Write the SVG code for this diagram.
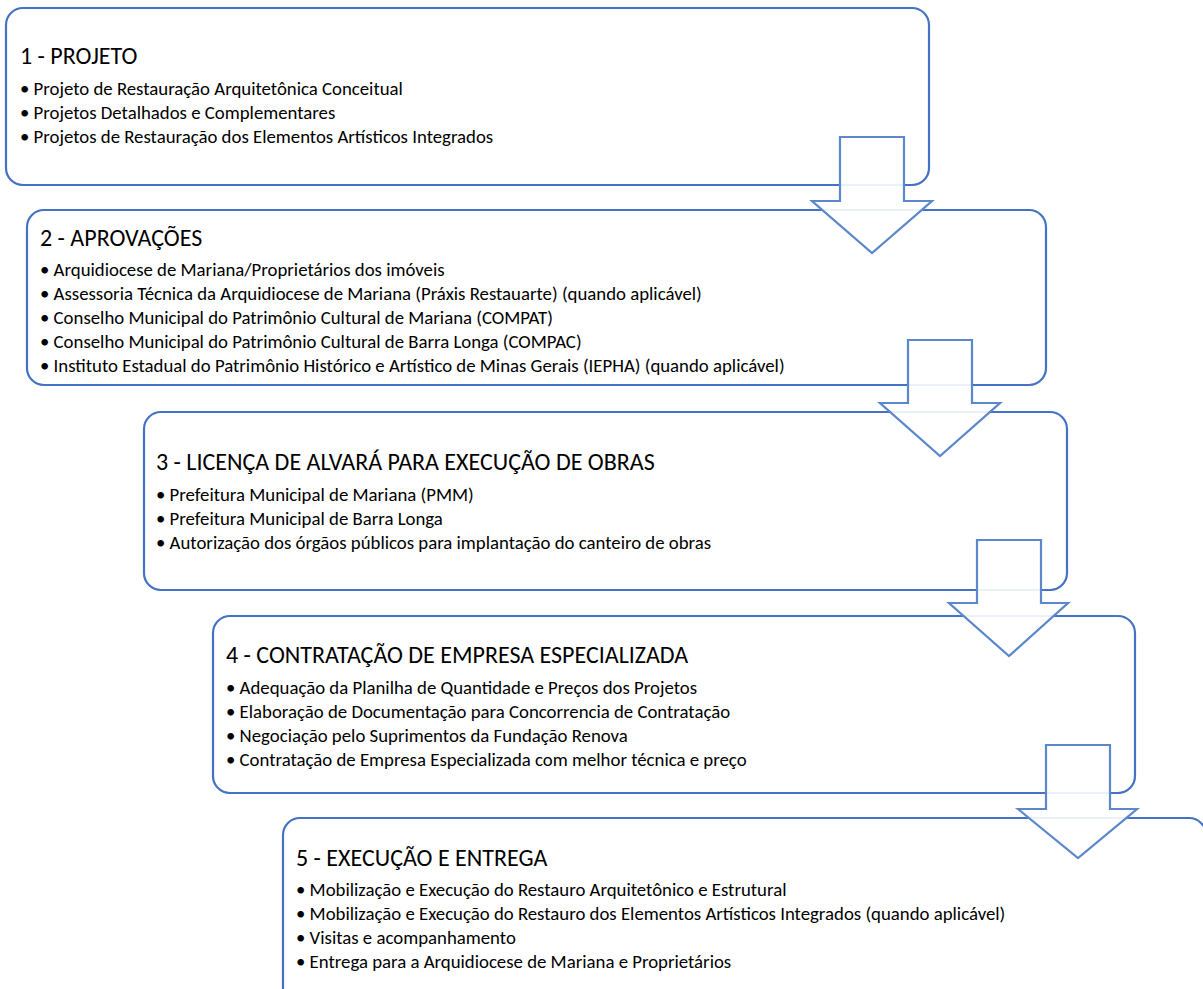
<svg xmlns="http://www.w3.org/2000/svg" width="1203" height="989" viewBox="0 0 1203 989">
<style>
.box{fill:#fff;stroke:#4472C4;stroke-width:2.2}
.t{font-family:Carlito,Lato,"Liberation Sans",sans-serif;font-size:24px;fill:#000}
.b{font-family:Carlito,Lato,"Liberation Sans",sans-serif;font-size:18.8px;fill:#000}
.arrow{fill:#fff;fill-opacity:0.9;stroke:#5B87CC;stroke-width:2.2;stroke-linejoin:miter}
</style>
<rect width="1203" height="989" fill="#fff"/>
<g id="node1">
<rect class="box" x="6" y="8" width="923" height="177" rx="17"/>
<text class="t" x="20" y="64">1 - PROJETO</text>
<text class="b" x="20" y="95">• Projeto de Restauração Arquitetônica Conceitual</text>
<text class="b" x="20" y="119">• Projetos Detalhados e Complementares</text>
<text class="b" x="20" y="143">• Projetos de Restauração dos Elementos Artísticos Integrados</text>
</g>
<g id="node2">
<rect class="box" x="27" y="210" width="1019" height="175" rx="17"/>
<text class="t" x="40" y="246">2 - APROVAÇÕES</text>
<text class="b" x="40" y="276">• Arquidiocese de Mariana/Proprietários dos imóveis</text>
<text class="b" x="40" y="300">• Assessoria Técnica da Arquidiocese de Mariana (Práxis Restauarte) (quando aplicável)</text>
<text class="b" x="40" y="324">• Conselho Municipal do Patrimônio Cultural de Mariana (COMPAT)</text>
<text class="b" x="40" y="348">• Conselho Municipal do Patrimônio Cultural de Barra Longa (COMPAC)</text>
<text class="b" x="40" y="372">• Instituto Estadual do Patrimônio Histórico e Artístico de Minas Gerais (IEPHA) (quando aplicável)</text>
</g>
<g id="node3">
<rect class="box" x="144" y="412" width="923" height="178" rx="17"/>
<text class="t" x="156" y="470">3 - LICENÇA DE ALVARÁ PARA EXECUÇÃO DE OBRAS</text>
<text class="b" x="156" y="501">• Prefeitura Municipal de Mariana (PMM)</text>
<text class="b" x="156" y="525">• Prefeitura Municipal de Barra Longa</text>
<text class="b" x="156" y="549">• Autorização dos órgãos públicos para implantação do canteiro de obras</text>
</g>
<g id="node4">
<rect class="box" x="213" y="616" width="922" height="177" rx="17"/>
<text class="t" x="226" y="663">4 - CONTRATAÇÃO DE EMPRESA ESPECIALIZADA</text>
<text class="b" x="226" y="694">• Adequação da Planilha de Quantidade e Preços dos Projetos</text>
<text class="b" x="226" y="718">• Elaboração de Documentação para Concorrencia de Contratação</text>
<text class="b" x="226" y="742">• Negociação pelo Suprimentos da Fundação Renova</text>
<text class="b" x="226" y="766">• Contratação de Empresa Especializada com melhor técnica e preço</text>
</g>
<g id="node5">
<rect class="box" x="283" y="818" width="923" height="190" rx="17"/>
<text class="t" x="296" y="866">5 - EXECUÇÃO E ENTREGA</text>
<text class="b" x="296" y="896">• Mobilização e Execução do Restauro Arquitetônico e Estrutural</text>
<text class="b" x="296" y="920">• Mobilização e Execução do Restauro dos Elementos Artísticos Integrados (quando aplicável)</text>
<text class="b" x="296" y="944">• Visitas e acompanhamento</text>
<text class="b" x="296" y="968">• Entrega para a Arquidiocese de Mariana e Proprietários</text>
</g>
<g id="connectors">
<path class="arrow" d="M840,137 H904 V201 H932 L872,253 L812,201 H840 Z"/>
<path class="arrow" d="M908,340 H972 V403 H1000 L940,456 L880,403 H908 Z"/>
<path class="arrow" d="M977,540 H1041 V603 H1068 L1009,656 L949,603 H977 Z"/>
<path class="arrow" d="M1046,745 H1110 V809 H1137 L1078,858 L1018,809 H1046 Z"/>
</g>
</svg>
